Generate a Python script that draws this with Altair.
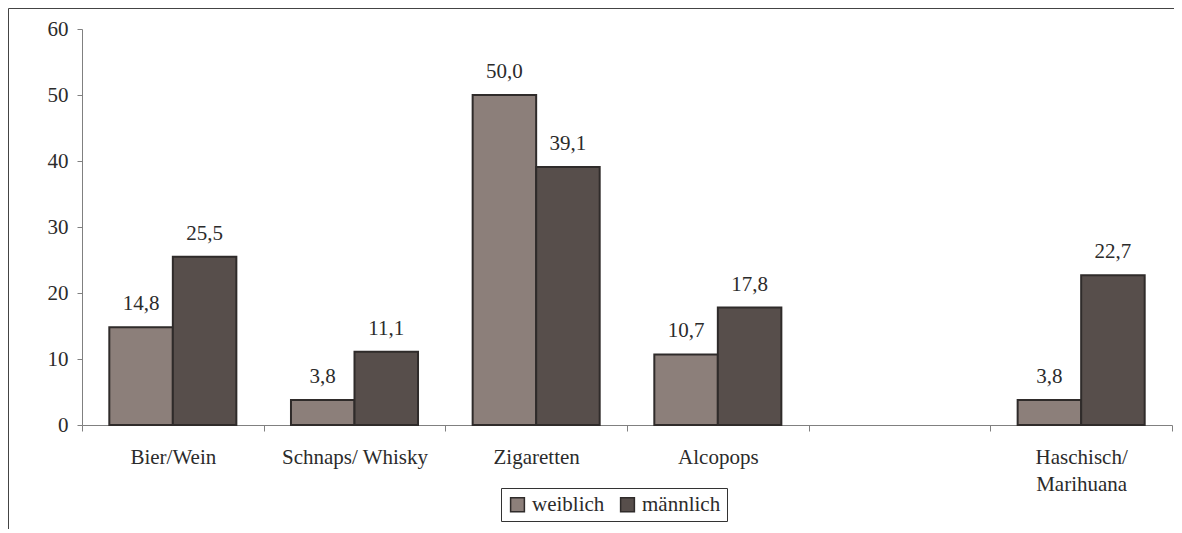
import altair as alt
import pandas as pd

categories = ["Bier/Wein", "Schnaps/ Whisky", "Zigaretten", "Alcopops", " ", "Haschisch/ Marihuana"]
series = ["weiblich", "männlich"]
weiblich = [14.8, 3.8, 50.0, 10.7, None, 3.8]
maennlich = [25.5, 11.1, 39.1, 17.8, None, 22.7]
colors = ["#8c7f7a", "#574e4b"]
y_ticks = [0, 10, 20, 30, 40, 50, 60]

rows = []
for cat, w, m in zip(categories, weiblich, maennlich):
    if w is not None:
        rows.append({"cat": cat, "sex": "weiblich", "value": w})
    if m is not None:
        rows.append({"cat": cat, "sex": "männlich", "value": m})
df = pd.DataFrame(rows)

FONT = "Liberation Serif"
FS = 21
TXT = "#2b2b2b"
AX = "#808080"

x = alt.X(
    "cat:N",
    sort=categories,
    scale=alt.Scale(domain=categories, paddingInner=0, paddingOuter=0),
    axis=alt.Axis(
        title=None,
        labelAngle=0,
        tickBand="extent",
        tickSize=6,
        labelPadding=15,
        labelFontSize=FS,
        labelFont=FONT,
        labelColor=TXT,
        labelLineHeight=27,
        labelBaseline="top",
        domainColor=AX,
        tickColor=AX,
        labelExpr="datum.label == 'Haschisch/ Marihuana' ? ['Haschisch/', 'Marihuana'] : datum.label",
    ),
)
xo = alt.XOffset("sex:N", sort=series, scale=alt.Scale(domain=series, paddingInner=0, paddingOuter=0.43))
y = alt.Y(
    "value:Q",
    scale=alt.Scale(domain=[0, 60], nice=False),
    axis=alt.Axis(
        title=None,
        values=y_ticks,
        grid=False,
        tickSize=5,
        labelPadding=9,
        labelFontSize=FS,
        labelFont=FONT,
        labelColor=TXT,
        domainColor=AX,
        tickColor=AX,
    ),
)

base = alt.Chart(df)

bars = base.mark_bar(stroke="#2f2b2a", strokeWidth=2).encode(
    x=x,
    xOffset=xo,
    y=y,
    color=alt.Color(
        "sex:N",
        sort=series,
        scale=alt.Scale(domain=series, range=colors),
        legend=alt.Legend(
            title=None,
            orient="none",
            legendX=419,
            legendY=459,
            direction="horizontal",
            padding=6,
            strokeColor="#333333",
            fillColor="white",
            symbolType="square",
            symbolSize=190,
            symbolStrokeColor="#2f2b2a",
            symbolStrokeWidth=1.5,
            symbolOpacity=1,
            labelFontSize=FS,
            labelFont=FONT,
            labelColor=TXT,
            labelOffset=4,
            columnPadding=12,
        ),
    ),
)

labels = base.mark_text(
    dy=-17, baseline="alphabetic", fontSize=FS, font=FONT, color=TXT
).transform_calculate(
    lab="replace(format(datum.value, '.1f'), '.', ',')"
).encode(
    x=x,
    xOffset=xo,
    y=y,
    text="lab:N",
)

main = alt.layer(bars, labels)

# outer chart frame: only its top and left edges are visible in the reference
frame_df = pd.DataFrame({
    "fx": [-73.5, -73.5, 1094.0],
    "fy": [502.0, -20.5, -20.5],
    "o": [0, 1, 2],
})
frame = alt.Chart(frame_df).mark_line(color="#444444", strokeWidth=1).encode(
    x=alt.X("fx:Q", scale=None, axis=None),
    y=alt.Y("fy:Q", scale=None, axis=None),
    order="o:Q",
)

chart = (
    alt.layer(main, frame)
    .resolve_scale(x="independent", y="independent")
    .properties(
        width=1090,
        height=396,
        padding={"left": 74, "top": 21, "right": 2, "bottom": 104},
        autosize=alt.AutoSizeParams(type="none"),
    )
    .configure_view(stroke="transparent")
)

chart.save("out.html", embed_options={"renderer": "svg", "actions": False})
